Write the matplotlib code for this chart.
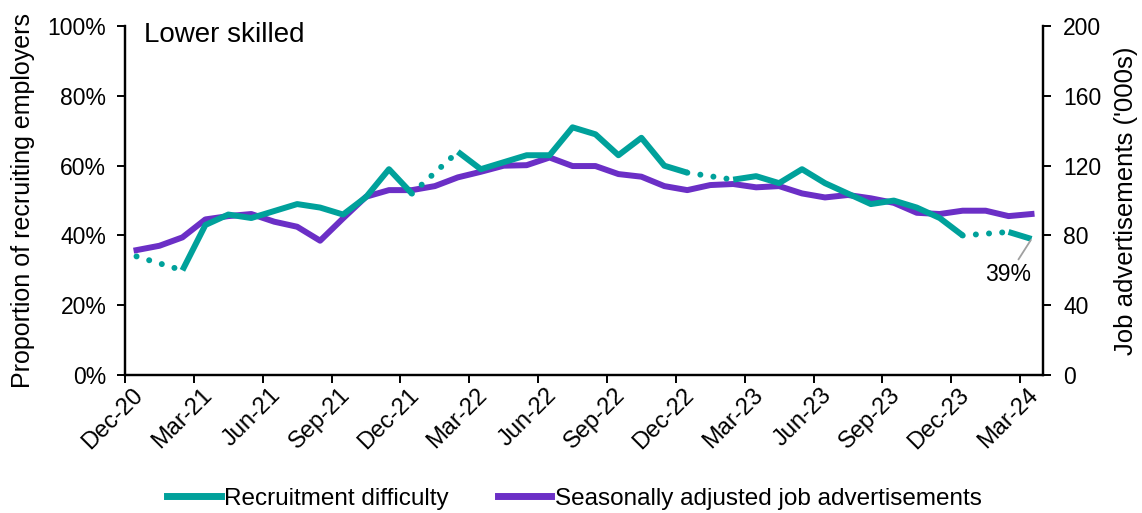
import numpy as np
import matplotlib
matplotlib.use("Agg")
import matplotlib.pyplot as plt
import matplotlib.transforms as mtransforms
from matplotlib.lines import Line2D

plt.rcParams['font.family'] = ['Liberation Sans', 'DejaVu Sans']

tick_labels = ["Dec-20", "Mar-21", "Jun-21", "Sep-21", "Dec-21", "Mar-22", "Jun-22",
               "Sep-22", "Dec-22", "Mar-23", "Jun-23", "Sep-23", "Dec-23", "Mar-24"]

# Monthly, Dec-20 .. Mar-24 (None = not surveyed)
recruitment = [34, None, 30, 43, 46, 45, 47, 49, 48, 46, 51, 59, 52, None, 64, 59, 61, 63, 63, 71,
               69, 63, 68, 60, 58, None, 56, 57, 55, 59, 55, 52, 49, 50, 48, 45, 40, None, 41, 39]
job_ads = [71.6, 74.1, 78.9, 89.2, 91.1, 92.3, 87.9, 85.0, 77.0, 89.8, 102.2, 106, 106, 108.3,
           113.3, 116.5, 120, 120.3, 124.7, 119.8, 119.8, 115.2, 113.7, 108.3, 106, 108.9, 109.5,
           107.6, 108.3, 104.1, 101.8, 103.2, 101.3, 98.7, 93, 92.3, 94.2, 94.2, 91.1, 92.3]

TEAL = "#00A19B"
PURPLE = "#6B2FC6"
LW = 4.3
FS = 16.5

n = len(recruitment)
x = np.arange(n) + 0.5
rec = np.array([np.nan if v is None else v for v in recruitment], dtype=float)

fig = plt.figure(figsize=(11.42, 5.13), dpi=100)
ax = fig.add_axes([0.1095, 0.269, 0.8038, 0.680])
ax2 = ax.twinx()

# dotted bridges over missing months
valid = np.where(~np.isnan(rec))[0]
for a, b in zip(valid[:-1], valid[1:]):
    if b - a > 1:
        ax.plot([x[a], x[b]], [rec[a], rec[b]], color=TEAL, lw=LW,
                linestyle=(0, (0.01, 2.2)), dash_capstyle='round', zorder=3)
ax.plot(x, rec, color=TEAL, lw=LW, solid_capstyle='butt', zorder=3)

ax2.plot(x, job_ads, color=PURPLE, lw=LW, zorder=4)
ax.set_zorder(ax2.get_zorder() + 1)
ax.patch.set_visible(False)

ax.set_xlim(0, n)
ax.set_ylim(0, 100)
ax2.set_ylim(0, 200)
ax.set_yticks(np.arange(0, 101, 20))
ax.set_yticklabels([f"{v}%" for v in range(0, 101, 20)])
ax2.set_yticks(np.arange(0, 201, 40))
ax.set_xticks(np.arange(0, n, 3))
ax.set_xticklabels(tick_labels, rotation=45, ha='right', va='top', rotation_mode='anchor')

for a in (ax, ax2):
    a.spines['top'].set_visible(False)
    for s in a.spines.values():
        s.set_linewidth(1.6)
    a.tick_params(axis='both', labelsize=FS, width=1.4, length=5.5, direction='out')
ax.tick_params(axis='x', pad=3, labelsize=17)
ax.tick_params(axis='y', pad=8)
ax2.tick_params(axis='y', pad=9)

offset = mtransforms.ScaledTranslation(7 / 100, 3 / 100, fig.dpi_scale_trans)
for lab in ax.get_xticklabels():
    lab.set_transform(lab.get_transform() + offset)

ax.set_ylabel("Proportion of recruiting employers", fontsize=18, labelpad=9)
ax2.set_ylabel("Job advertisements ('000s)", fontsize=18.5, labelpad=9)

ax.text(0.021, 1.012, "Lower skilled", transform=ax.transAxes, fontsize=20,
        va='top', ha='left')

ax.annotate(f"{recruitment[-1]}%", xy=(x[-1], rec[-1]), xytext=(x[-1] - 1.0, rec[-1] - 10.3),
            fontsize=FS, ha='center', va='center',
            arrowprops=dict(arrowstyle='-', color='#A0A0A0', lw=1.3,
                            shrinkA=1, shrinkB=1))

handles = [Line2D([], [], color=TEAL, lw=5), Line2D([], [], color=PURPLE, lw=5)]
fig.legend(handles, ["Recruitment difficulty", "Seasonally adjusted job advertisements"],
           loc='lower center', bbox_to_anchor=(0.503, -0.036), ncol=2, frameon=False,
           fontsize=17.5, handlelength=2.2, handletextpad=0.15, columnspacing=2.0)

fig.savefig("out.png", dpi=100)
